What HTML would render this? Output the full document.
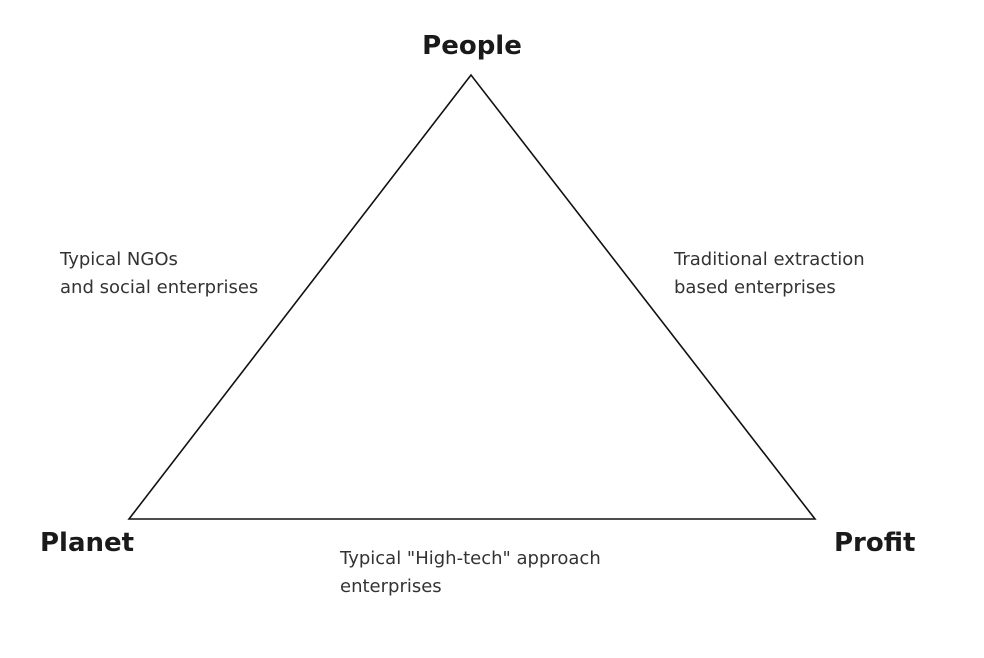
<!DOCTYPE html>
<html><head><meta charset="utf-8"><style>
html,body{margin:0;padding:0;background:#fff;}
body{width:984px;height:653px;overflow:hidden;}
</style></head><body>
<svg width="984" height="653" xmlns="http://www.w3.org/2000/svg">
<polygon points="471,75 129,519 815,519" fill="none" stroke="#111" stroke-width="1.6"/>
<g font-family="'DejaVu Sans','Liberation Sans',sans-serif" font-weight="bold" font-size="26" fill="#1a1a1a">
<text x="472" y="54" text-anchor="middle">People</text>
<text x="40" y="551">Planet</text>
<text x="834" y="551">Profit</text>
</g>
<g font-family="'DejaVu Sans','Liberation Sans',sans-serif" font-size="18" fill="#333">
<text x="60" y="265">Typical NGOs</text>
<text x="60" y="293">and social enterprises</text>
<text x="674" y="265">Traditional extraction</text>
<text x="674" y="293">based enterprises</text>
<text x="340" y="564">Typical "High-tech" approach</text>
<text x="340" y="592">enterprises</text>
</g>
</svg>
</body></html>
